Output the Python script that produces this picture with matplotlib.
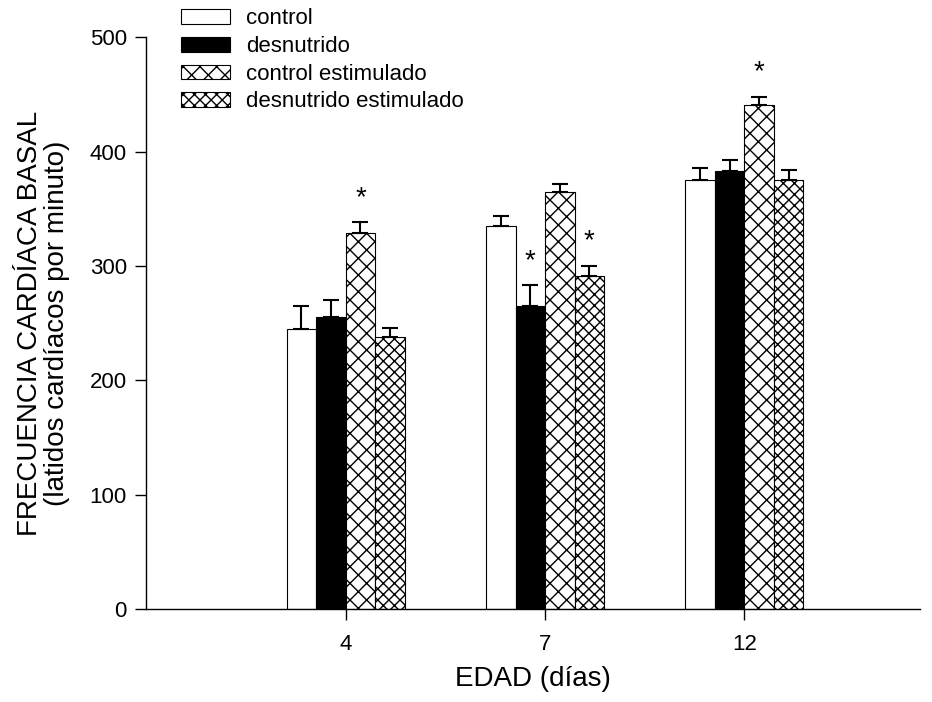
import matplotlib
matplotlib.use("Agg")
import matplotlib.pyplot as plt
import numpy as np

plt.rcParams['font.family'] = ['Liberation Sans', 'DejaVu Sans']
plt.rcParams['hatch.linewidth'] = 1.0

ages = ["4", "7", "12"]
series = ["control", "desnutrido", "control estimulado", "desnutrido estimulado"]
means = {
    "control": [245, 335, 375],
    "desnutrido": [255, 265, 383],
    "control estimulado": [329, 365, 441],
    "desnutrido estimulado": [238, 291, 375],
}
errs = {
    "control": [20, 9, 11],
    "desnutrido": [15, 18, 10],
    "control estimulado": [9, 7, 7],
    "desnutrido estimulado": [8, 9, 9],
}
# significance stars: (group index, series name)
stars = [(0, "control estimulado"), (1, "desnutrido"), (1, "desnutrido estimulado"), (2, "control estimulado")]

styles = {
    "control": dict(facecolor="white", hatch=None),
    "desnutrido": dict(facecolor="black", hatch=None),
    "control estimulado": dict(facecolor="white", hatch="xx"),
    "desnutrido estimulado": dict(facecolor="white", hatch="xxx"),
}

fig = plt.figure(figsize=(9.32, 7.02), dpi=100)
ax = fig.add_axes([0.157, 0.1325, 0.83, 0.8145])

x = np.arange(len(ages))
w = 0.148
offsets = np.array([-1.5, -0.5, 0.5, 1.5]) * w
for i, s in enumerate(series):
    pos = x + offsets[i]
    ax.bar(pos, means[s], width=w, edgecolor="black", linewidth=0.8, **styles[s], label=s, zorder=2)
    ax.errorbar(pos, means[s], yerr=[np.zeros(3), errs[s]], fmt="none", ecolor="black",
                elinewidth=1.5, capsize=6, capthick=1.5, zorder=3)

for g, s in stars:
    i = series.index(s)
    ax.text(x[g] + offsets[i], means[s][g] + errs[s][g] + 10, "*", ha="center", va="bottom",
            fontsize=20)

ax.set_xlim(-1.0, 2.88)
ax.set_ylim(0, 500)
ax.set_xticks(x)
ax.set_xticklabels(ages, fontsize=16)
ax.set_yticks([0, 100, 200, 300, 400, 500])
ax.tick_params(axis="y", labelsize=16, direction="out", length=8, width=1, pad=6)
ax.tick_params(axis="x", direction="out", length=8, width=1, pad=10)
ax.spines["top"].set_visible(False)
ax.spines["right"].set_visible(False)
ax.spines["left"].set_linewidth(1)
ax.spines["bottom"].set_linewidth(1)

ax.set_ylabel("FRECUENCIA CARDÍACA BASAL\n(latidos cardíacos por minuto)", fontsize=20, labelpad=14,
              linespacing=1.05)
ax.set_xlabel("EDAD (días)", fontsize=20, labelpad=8)

ax.legend(loc="upper left", bbox_to_anchor=(0.194, 0.988), bbox_transform=fig.transFigure,
          frameon=False, fontsize=16, borderpad=0, borderaxespad=0,
          handlelength=2.2, handleheight=0.63, labelspacing=0.3, handletextpad=0.72)

fig.savefig("out.png", dpi=100)
